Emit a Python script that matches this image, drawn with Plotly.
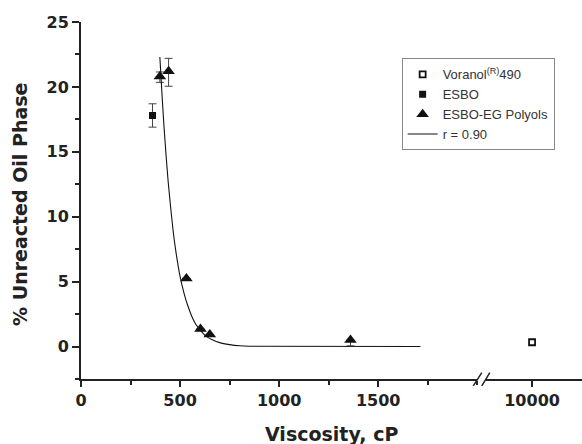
import plotly.graph_objects as go

# ---- data ----
voranol_x = [10000]
voranol_y = [0.33]

esbo_x = [361]
esbo_y = [17.8]
esbo_err = [0.9]

polyol_x = [398, 442, 532, 603, 650, 1360]
polyol_y = [20.8, 21.2, 5.25, 1.35, 0.92, 0.5]
polyol_err_plus = [0.35, 1.0, 0, 0, 0, 0]
polyol_err_minus = [0.45, 1.15, 0, 0, 0, 0.45]

fit_x = [398, 410, 420, 430, 440, 450, 465, 480, 500, 520, 540, 560, 580, 600,
         630, 660, 700, 750, 800, 850, 1713]
fit_y = [22.3, 19.1, 16.7, 14.6, 12.7, 11.1, 8.9, 7.2, 5.4, 4.1, 3.1, 2.3, 1.7, 1.3,
         0.8, 0.55, 0.3, 0.15, 0.06, 0.02, 0.0]

x1_ticks = [0, 500, 1000, 1500]
x2_ticks = [10000]
x2_labels = ["10000"]
y_ticks = [0, 5, 10, 15, 20, 25]

TICKFONT = dict(family="DejaVu Sans", size=16, color="#222", weight="bold")
TITLEFONT = dict(family="DejaVu Sans", size=19, color="#222", weight="bold")

fig = go.Figure()

fig.add_trace(go.Scatter(
    x=voranol_x, y=voranol_y, mode="markers", name="Voranol<sup>(R)</sup>490",
    xaxis="x2", yaxis="y",
    marker=dict(symbol="square-open", size=6, color="#111", line=dict(width=1.8, color="#111"))))

fig.add_trace(go.Scatter(
    x=esbo_x, y=esbo_y, mode="markers", name="ESBO",
    error_y=dict(type="data", array=esbo_err, color="#444", thickness=1, width=4),
    marker=dict(symbol="square", size=7, color="#111")))

fig.add_trace(go.Scatter(
    x=polyol_x, y=polyol_y, mode="markers", name="ESBO-EG Polyols",
    error_y=dict(type="data", symmetric=False, array=polyol_err_plus,
                 arrayminus=polyol_err_minus, color="#444", thickness=1, width=4),
    marker=dict(symbol="triangle-up", size=11, color="#111")))

fig.add_trace(go.Scatter(
    x=fit_x, y=fit_y, mode="lines", name="r = 0.90",
    line=dict(color="#111", width=1.1, shape="spline", smoothing=0.6)))

axis_common = dict(showline=True, linecolor="#222", linewidth=2, ticks="outside",
                   tickcolor="#222", tickwidth=1.5, ticklen=6, showgrid=False,
                   zeroline=False, tickfont=TICKFONT, automargin=False)

fig.update_layout(
    width=582, height=444,
    margin=dict(l=81, r=0, t=22, b=65, autoexpand=False),
    paper_bgcolor="white", plot_bgcolor="white",
    xaxis=dict(domain=[0, 0.791], range=[0, 2000], tickvals=x1_ticks,
               minor=dict(dtick=250, tick0=0, ticklen=4, tickcolor="#222", ticks="outside"),
               anchor="y", **axis_common),
    xaxis2=dict(domain=[0.808, 1], range=[9000, 11080], tickvals=x2_ticks,
                ticktext=x2_labels, anchor="y", **axis_common),
    yaxis=dict(range=[-2.5, 25], tickvals=y_ticks, anchor="x",
               minor=dict(dtick=2.5, tick0=0, ticklen=4, tickcolor="#222", ticks="outside"),
               **{**axis_common, "ticklen": 7}),
    showlegend=True,
    legend=dict(x=0.640, y=0.898, xanchor="left", yanchor="top",
                bordercolor="#888", borderwidth=1, bgcolor="white",
                font=dict(family="Liberation Sans", size=13, color="#333"),
                tracegroupgap=0),
    annotations=[
        dict(text="Viscosity, cP", xref="paper", yref="paper", x=0.5, y=-0.155,
             xanchor="center", yanchor="middle", showarrow=False, font=TITLEFONT),
        dict(text="% Unreacted Oil Phase", xref="paper", yref="paper", x=-0.122, y=0.49,
             xanchor="center", yanchor="middle", textangle=-90, showarrow=False,
             font=TITLEFONT),
    ],
    shapes=[
        dict(type="line", xref="paper", yref="paper", x0=0.783, y0=-0.019, x1=0.800, y1=0.018,
             line=dict(color="#222", width=1.5)),
        dict(type="line", xref="paper", yref="paper", x0=0.800, y0=-0.019, x1=0.816, y1=0.018,
             line=dict(color="#222", width=1.5)),
    ],
)

fig.write_html("out.html", config={"displayModeBar": False},
               post_script="document.body.style.margin='0';")
